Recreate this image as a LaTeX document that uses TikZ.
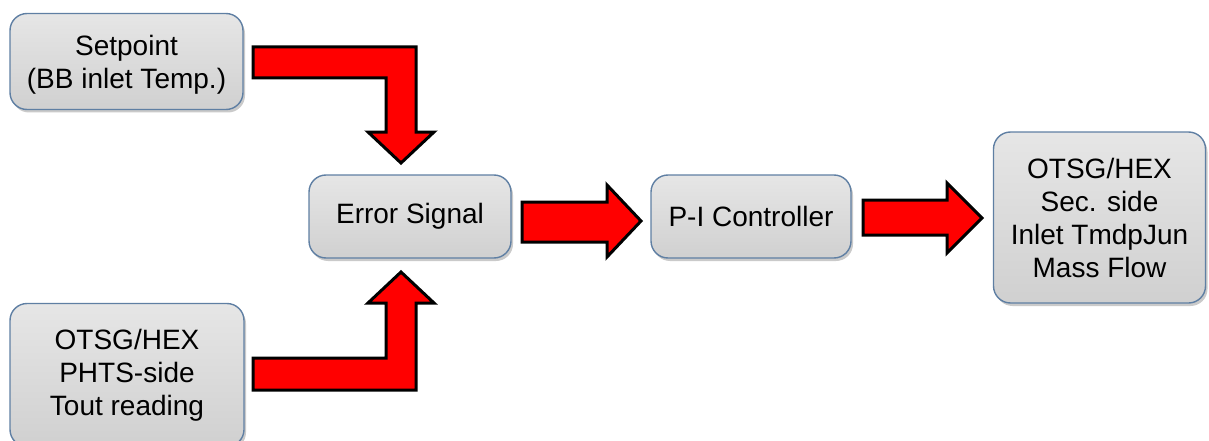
\documentclass[tikz,border=0pt]{standalone}
\usepackage{fontspec}
\setmainfont{Liberation Sans}
\usetikzlibrary{shadows}
\definecolor{boxedge}{HTML}{5F7FA3}
\definecolor{boxtop}{HTML}{E6E6E6}
\definecolor{boxbot}{HTML}{D0D0D0}
\tikzset{
  blockbox/.style={draw=boxedge, line width=1.4pt, rounded corners=17pt,
    top color=boxtop, bottom color=boxbot, align=center,
    font=\fontsize{28}{33}\selectfont, inner sep=0pt,
    drop shadow={shadow xshift=2pt, shadow yshift=-3pt, opacity=0.35, fill=black!60}},
  blockarrow/.style={draw=black, fill=red, line width=3pt, line join=miter}
}
\begin{document}
\begin{tikzpicture}[x=1pt, y=-1pt]
\useasboundingbox (0,0) rectangle (1209,441);
\node[blockbox, minimum width=233pt, minimum height=96pt, text depth=-8pt] (sp) at (126.5,61.5) {Setpoint\\(BB inlet Temp.)};
\node[blockbox, minimum width=234pt, minimum height=143pt] (ph) at (127,375) {OTSG/HEX\\PHTS-side\\Tout reading};
\node[blockbox, minimum width=202pt, minimum height=83pt] (err) at (410,216.5) {Error Signal};
\node[blockbox, minimum width=200pt, minimum height=83pt] (pi) at (751,216.5) {P-I Controller};
\node[blockbox, minimum width=212pt, minimum height=171pt] (out) at (1099.5,217.5) {OTSG/HEX\\Sec. side\\Inlet TmdpJun\\Mass Flow};
% sp -> err
\draw[blockarrow] (253,47) -- (416,47) -- (416,132) -- (434,132) -- (401,163) -- (368,132) -- (386,132) -- (386,78) -- (253,78) -- cycle;
% ph -> err
\draw[blockarrow] (253,390) -- (416,390) -- (416,303) -- (434,303) -- (401,272) -- (368,303) -- (386,303) -- (386,358) -- (253,358) -- cycle;
% err -> pi
\draw[blockarrow] (522,202) -- (607,202) -- (607,185) -- (641,221) -- (607,257) -- (607,242) -- (522,242) -- cycle;
% pi -> out
\draw[blockarrow] (863,200) -- (947,200) -- (947,183) -- (982,218) -- (947,253) -- (947,235) -- (863,235) -- cycle;
\end{tikzpicture}
\end{document}
